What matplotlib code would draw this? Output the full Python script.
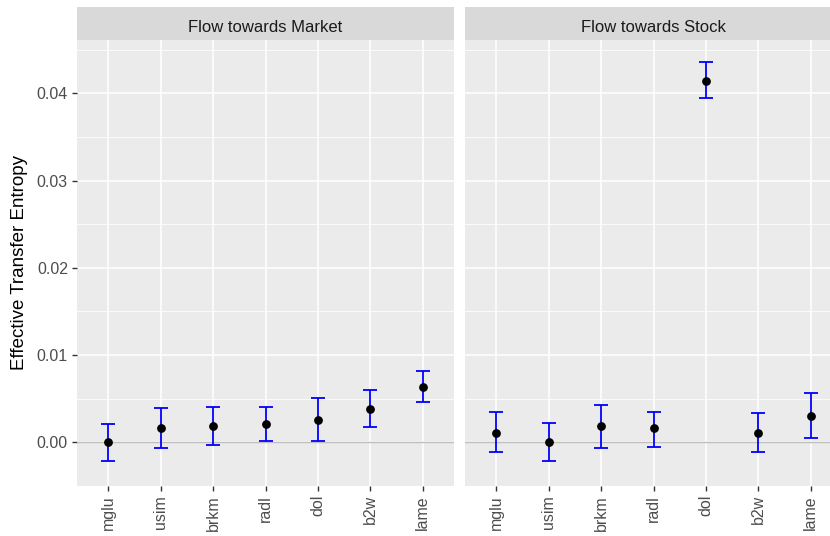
import matplotlib
matplotlib.use("Agg")
import matplotlib.pyplot as plt
import numpy as np

plt.rcParams["font.family"] = ["Liberation Sans", "DejaVu Sans"]

# --- data ---
STOCKS = ["mglu", "usim", "brkm", "radl", "dol", "b2w", "lame"]
PANELS = ["Flow towards Market", "Flow towards Stock"]

market_te = [0.0000, 0.0016, 0.0019, 0.0021, 0.0026, 0.0038, 0.0064]
market_lo = [-0.0021, -0.0006, -0.0003, 0.0002, 0.0002, 0.0018, 0.0046]
market_hi = [0.0021, 0.0039, 0.0041, 0.0041, 0.0051, 0.0060, 0.0082]

stock_te = [0.0011, 0.0000, 0.0019, 0.0016, 0.0414, 0.0011, 0.0030]
stock_lo = [-0.0011, -0.0021, -0.0006, -0.0005, 0.0394, -0.0011, 0.0005]
stock_hi = [0.0035, 0.0022, 0.0043, 0.0035, 0.0436, 0.0034, 0.0057]

Y_TICKS = [0.00, 0.01, 0.02, 0.03, 0.04]
Y_LIM = (-0.0044, 0.0461)

PANEL_BG = "#ebebeb"
STRIP_BG = "#d9d9d9"

fig = plt.figure(figsize=(8.3, 5.36), dpi=100)
W, H = 830, 536


def px_axes(x0, y0, w, h):
    # pixel box (top-left origin) -> figure fraction
    return fig.add_axes([x0 / W, 1 - (y0 + h) / H, w / W, h / H])


series = [(market_te, market_lo, market_hi), (stock_te, stock_lo, stock_hi)]
lefts = [77, 465]
pw, top, ph = 377, 40, 446

for i, (title, (te, lo, hi)) in enumerate(zip(PANELS, series)):
    ax = px_axes(lefts[i], top, pw, ph)
    ax.set_facecolor(PANEL_BG)
    x = np.arange(1, len(STOCKS) + 1)
    ax.set_xlim(0.4, len(STOCKS) + 0.6)
    ax.set_ylim(*Y_LIM)

    # grid: major + minor
    ax.set_yticks(Y_TICKS)
    ax.set_yticks([-0.005 + 0.01 * k for k in range(6)], minor=True)
    ax.set_xticks(x)
    ax.grid(which="major", color="white", linewidth=1.1)
    ax.grid(which="minor", axis="y", color="white", linewidth=0.55)
    ax.set_axisbelow(True)
    for s in ax.spines.values():
        s.set_visible(False)

    ax.axhline(0, color="#bebebe", linewidth=1.0, zorder=1.5)

    te = np.array(te)
    err = [te - np.array(lo), np.array(hi) - te]
    ax.errorbar(x, te, yerr=err, fmt="none", ecolor="blue",
                elinewidth=1.3, capsize=4.7, capthick=1.3, zorder=2)
    ax.scatter(x, te, s=28, color="black", zorder=3)

    ax.set_xticklabels(STOCKS, rotation=90, fontsize=11.5, color="#4d4d4d")
    ax.tick_params(axis="both", which="major", length=3.5, width=1.0,
                   color="#333333", pad=3)
    ax.tick_params(axis="y", which="minor", length=0)
    if i == 0:
        ax.set_yticklabels([f"{v:.2f}" for v in Y_TICKS],
                           fontsize=11.5, color="#4d4d4d")
        ax.set_ylabel("Effective Transfer Entropy", fontsize=13.5,
                      color="black", labelpad=6)
    else:
        ax.tick_params(axis="y", which="major", length=0, labelleft=False)

    # facet strip
    sax = px_axes(lefts[i], 7, pw, 33)
    sax.set_facecolor(STRIP_BG)
    sax.set_xticks([])
    sax.set_yticks([])
    for s in sax.spines.values():
        s.set_visible(False)
    sax.text(0.5, 0.38, title, ha="center", va="center",
             fontsize=12, color="#1a1a1a", transform=sax.transAxes)

fig.savefig("out.png", dpi=100)
